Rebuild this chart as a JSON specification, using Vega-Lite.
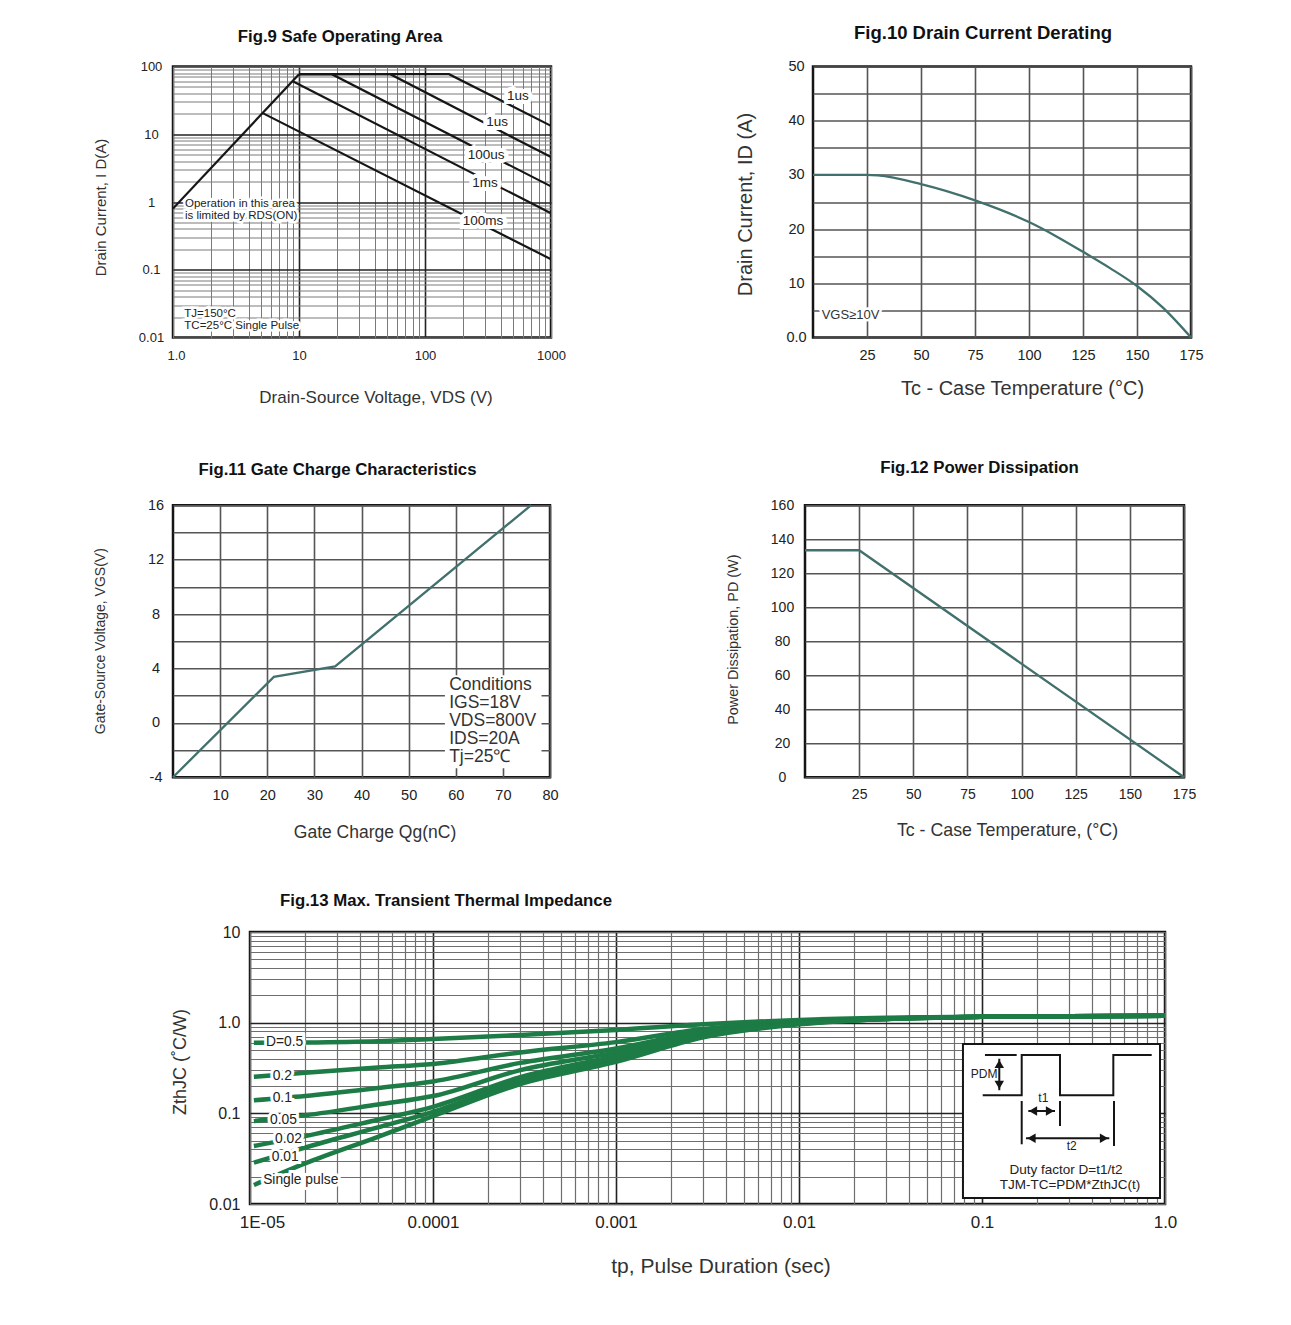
{
  "$schema": "https://vega.github.io/schema/vega-lite/v6.json",
  "padding": {"left": 91, "top": 22.5, "right": 10, "bottom": 10},
  "background": "white",
  "config": {
    "font": "Liberation Sans",
    "view": {"stroke": "#151515", "strokeWidth": 2.5},
    "axis": {"ticks": false, "domain": false, "labelFont": "Liberation Sans", "titleFont": "Liberation Sans", "labelColor": "#222", "titleColor": "#333", "titleFontWeight": "normal", "labelOverlap": false, "labelFlush": false, "labelBound": false, "gridOpacity": 1, "titleBaseline": "middle", "titleAlign": "center"},
    "title": {"font": "Liberation Sans", "fontWeight": "bold", "color": "#111", "anchor": "middle", "frame": "group"},
    "text": {"font": "Liberation Sans"}
  },
  "datasets": {
    "soa": [
      {"curve": "rds", "i": 0, "vds": 1, "id": 0.8}, {"curve": "rds", "i": 1, "vds": 10, "id": 77},
      {"curve": "a", "i": 0, "vds": 10, "id": 77}, {"curve": "a", "i": 1, "vds": 155, "id": 77}, {"curve": "a", "i": 2, "vds": 1000, "id": 13.3},
      {"curve": "b", "i": 0, "vds": 10, "id": 77}, {"curve": "b", "i": 1, "vds": 53, "id": 77}, {"curve": "b", "i": 2, "vds": 1000, "id": 4.6},
      {"curve": "c", "i": 0, "vds": 10, "id": 77}, {"curve": "c", "i": 1, "vds": 18.2, "id": 77}, {"curve": "c", "i": 2, "vds": 1000, "id": 1.7},
      {"curve": "d", "i": 0, "vds": 9, "id": 60}, {"curve": "d", "i": 1, "vds": 1000, "id": 0.68},
      {"curve": "e", "i": 0, "vds": 5.15, "id": 20.5}, {"curve": "e", "i": 1, "vds": 1000, "id": 0.143}
    ],
    "soa_lab": [
      {"t": "1us", "vds": 547, "id": 37.3},
      {"t": "1us", "vds": 373, "id": 15.4},
      {"t": "100us", "vds": 305, "id": 5.0},
      {"t": "1ms", "vds": 299, "id": 1.94},
      {"t": "100ms", "vds": 289, "id": 0.533}
    ],
    "soa_note": [
      {"t": "Operation in this area", "vds": 1.245, "id": 0.94},
      {"t": "is limited by RDS(ON)", "vds": 1.245, "id": 0.618},
      {"t": "TJ=150°C", "vds": 1.23, "id": 0.0219},
      {"t": "TC=25°C Single Pulse", "vds": 1.23, "id": 0.01503}
    ],
    "derate": [
      {"tc": 0, "id": 30}, {"tc": 25, "id": 30}, {"tc": 30, "id": 29.9}, {"tc": 50, "id": 28.3},
      {"tc": 75, "id": 25.3}, {"tc": 100, "id": 21.3}, {"tc": 112.5, "id": 18.7}, {"tc": 125, "id": 15.8}, {"tc": 137.5, "id": 12.8}, {"tc": 150, "id": 9.5}, {"tc": 162, "id": 5.5}, {"tc": 175, "id": 0}
    ],
    "derate_note": [{"t": "VGS≥10V", "tc": 4.0, "id": 4.24}],
    "gate": [
      {"qg": 0, "vgs": -4}, {"qg": 21.4, "vgs": 3.38}, {"qg": 34.4, "vgs": 4.14}, {"qg": 76, "vgs": 16}
    ],
    "gate_box": [{"qg": 57.7, "qg2": 78.2, "vgs": -3.34, "vgs2": 3.5}],
    "gate_note": [
      {"t": "Conditions", "qg": 58.6, "vgs": 2.75},
      {"t": "IGS=18V", "qg": 58.6, "vgs": 1.43},
      {"t": "VDS=800V", "qg": 58.6, "vgs": 0.11},
      {"t": "IDS=20A", "qg": 58.6, "vgs": -1.21},
      {"t": "Tj=25℃", "qg": 58.6, "vgs": -2.53}
    ],
    "power": [{"tc": 0, "pd": 133.5}, {"tc": 25, "pd": 133.5}, {"tc": 175, "pd": 0}],
    "zth": [
      {"s": "0.5", "tp": 1.05e-5, "z": 0.60}, {"s": "0.5", "tp": 2e-5, "z": 0.605}, {"s": "0.5", "tp": 5e-5, "z": 0.625}, {"s": "0.5", "tp": 1e-4, "z": 0.66}, {"s": "0.5", "tp": 3e-4, "z": 0.73}, {"s": "0.5", "tp": 1e-3, "z": 0.83}, {"s": "0.5", "tp": 3e-3, "z": 0.96}, {"s": "0.5", "tp": 1e-2, "z": 1.07}, {"s": "0.5", "tp": 3e-2, "z": 1.13}, {"s": "0.5", "tp": 0.1, "z": 1.16}, {"s": "0.5", "tp": 0.3, "z": 1.18}, {"s": "0.5", "tp": 1, "z": 1.19},
      {"s": "0.2", "tp": 1.05e-5, "z": 0.253}, {"s": "0.2", "tp": 2e-5, "z": 0.28}, {"s": "0.2", "tp": 5e-5, "z": 0.32}, {"s": "0.2", "tp": 1e-4, "z": 0.35}, {"s": "0.2", "tp": 3e-4, "z": 0.47}, {"s": "0.2", "tp": 1e-3, "z": 0.61}, {"s": "0.2", "tp": 3e-3, "z": 0.85}, {"s": "0.2", "tp": 1e-2, "z": 1.02}, {"s": "0.2", "tp": 3e-2, "z": 1.11}, {"s": "0.2", "tp": 0.1, "z": 1.16}, {"s": "0.2", "tp": 0.3, "z": 1.18}, {"s": "0.2", "tp": 1, "z": 1.19},
      {"s": "0.1", "tp": 1.05e-5, "z": 0.139}, {"s": "0.1", "tp": 2e-5, "z": 0.155}, {"s": "0.1", "tp": 5e-5, "z": 0.19}, {"s": "0.1", "tp": 1e-4, "z": 0.225}, {"s": "0.1", "tp": 3e-4, "z": 0.36}, {"s": "0.1", "tp": 1e-3, "z": 0.52}, {"s": "0.1", "tp": 3e-3, "z": 0.80}, {"s": "0.1", "tp": 1e-2, "z": 1.0}, {"s": "0.1", "tp": 3e-2, "z": 1.1}, {"s": "0.1", "tp": 0.1, "z": 1.16}, {"s": "0.1", "tp": 0.3, "z": 1.18}, {"s": "0.1", "tp": 1, "z": 1.19},
      {"s": "0.05", "tp": 1.05e-5, "z": 0.082}, {"s": "0.05", "tp": 2e-5, "z": 0.095}, {"s": "0.05", "tp": 5e-5, "z": 0.125}, {"s": "0.05", "tp": 1e-4, "z": 0.155}, {"s": "0.05", "tp": 3e-4, "z": 0.30}, {"s": "0.05", "tp": 1e-3, "z": 0.47}, {"s": "0.05", "tp": 3e-3, "z": 0.77}, {"s": "0.05", "tp": 1e-2, "z": 0.99}, {"s": "0.05", "tp": 3e-2, "z": 1.1}, {"s": "0.05", "tp": 0.1, "z": 1.16}, {"s": "0.05", "tp": 0.3, "z": 1.18}, {"s": "0.05", "tp": 1, "z": 1.19},
      {"s": "0.02", "tp": 1.05e-5, "z": 0.0436}, {"s": "0.02", "tp": 2e-5, "z": 0.056}, {"s": "0.02", "tp": 5e-5, "z": 0.085}, {"s": "0.02", "tp": 1e-4, "z": 0.118}, {"s": "0.02", "tp": 3e-4, "z": 0.25}, {"s": "0.02", "tp": 1e-3, "z": 0.43}, {"s": "0.02", "tp": 3e-3, "z": 0.74}, {"s": "0.02", "tp": 1e-2, "z": 0.98}, {"s": "0.02", "tp": 3e-2, "z": 1.1}, {"s": "0.02", "tp": 0.1, "z": 1.16}, {"s": "0.02", "tp": 0.3, "z": 1.18}, {"s": "0.02", "tp": 1, "z": 1.19},
      {"s": "0.01", "tp": 1.05e-5, "z": 0.0286}, {"s": "0.01", "tp": 2e-5, "z": 0.042}, {"s": "0.01", "tp": 5e-5, "z": 0.07}, {"s": "0.01", "tp": 1e-4, "z": 0.104}, {"s": "0.01", "tp": 3e-4, "z": 0.23}, {"s": "0.01", "tp": 1e-3, "z": 0.40}, {"s": "0.01", "tp": 3e-3, "z": 0.71}, {"s": "0.01", "tp": 1e-2, "z": 0.97}, {"s": "0.01", "tp": 3e-2, "z": 1.1}, {"s": "0.01", "tp": 0.1, "z": 1.16}, {"s": "0.01", "tp": 0.3, "z": 1.18}, {"s": "0.01", "tp": 1, "z": 1.19},
      {"s": "single", "tp": 1.05e-5, "z": 0.0162}, {"s": "single", "tp": 2e-5, "z": 0.028}, {"s": "single", "tp": 5e-5, "z": 0.055}, {"s": "single", "tp": 1e-4, "z": 0.093}, {"s": "single", "tp": 3e-4, "z": 0.21}, {"s": "single", "tp": 1e-3, "z": 0.37}, {"s": "single", "tp": 3e-3, "z": 0.69}, {"s": "single", "tp": 1e-2, "z": 0.96}, {"s": "single", "tp": 3e-2, "z": 1.1}, {"s": "single", "tp": 0.1, "z": 1.16}, {"s": "single", "tp": 0.3, "z": 1.18}, {"s": "single", "tp": 1, "z": 1.19}
    ],
    "zth_lab": [
      {"t": "D=0.5", "tp": 1.223e-5, "z": 0.612},
      {"t": "0.2", "tp": 1.33e-5, "z": 0.258},
      {"t": "0.1", "tp": 1.33e-5, "z": 0.1466},
      {"t": "0.05", "tp": 1.286e-5, "z": 0.0844},
      {"t": "0.02", "tp": 1.37e-5, "z": 0.0517},
      {"t": "0.01", "tp": 1.314e-5, "z": 0.033},
      {"t": "Single pulse", "tp": 1.18e-5, "z": 0.01824}
    ],
    "inset_box": [{"tp": 0.0787, "tp2": 0.9391, "z": 0.01165, "z2": 0.5817}],
    "inset_lines": [
      {"seg": "wave", "i": 0, "tp": 0.1009, "z": 0.1581}, {"seg": "wave", "i": 1, "tp": 0.1648, "z": 0.1581}, {"seg": "wave", "i": 2, "tp": 0.1648, "z": 0.4398}, {"seg": "wave", "i": 3, "tp": 0.2668, "z": 0.4398}, {"seg": "wave", "i": 4, "tp": 0.2668, "z": 0.1581}, {"seg": "wave", "i": 5, "tp": 0.5219, "z": 0.1581}, {"seg": "wave", "i": 6, "tp": 0.5219, "z": 0.4398}, {"seg": "wave", "i": 7, "tp": 0.8459, "z": 0.4398},
      {"seg": "bar", "i": 0, "tp": 0.1038, "z": 0.4398}, {"seg": "bar", "i": 1, "tp": 0.1547, "z": 0.4398},
      {"seg": "pdm", "i": 0, "tp": 0.1243, "z": 0.40}, {"seg": "pdm", "i": 1, "tp": 0.1243, "z": 0.18},
      {"seg": "v1", "i": 0, "tp": 0.1648, "z": 0.1368}, {"seg": "v1", "i": 1, "tp": 0.1648, "z": 0.04556},
      {"seg": "v2", "i": 0, "tp": 0.2668, "z": 0.1368}, {"seg": "v2", "i": 1, "tp": 0.2668, "z": 0.07251},
      {"seg": "v3", "i": 0, "tp": 0.5265, "z": 0.1368}, {"seg": "v3", "i": 1, "tp": 0.5265, "z": 0.04363},
      {"seg": "t1", "i": 0, "tp": 0.1791, "z": 0.1061}, {"seg": "t1", "i": 1, "tp": 0.2505, "z": 0.1061},
      {"seg": "t2", "i": 0, "tp": 0.1739, "z": 0.05305}, {"seg": "t2", "i": 1, "tp": 0.4962, "z": 0.05305}
    ],
    "inset_heads": [
      {"dir": "up", "tp": 0.1243, "z": 0.35},
      {"dir": "down", "tp": 0.1243, "z": 0.2055},
      {"dir": "left", "tp": 0.190, "z": 0.1061},
      {"dir": "right", "tp": 0.2353, "z": 0.1061},
      {"dir": "left", "tp": 0.1864, "z": 0.05305},
      {"dir": "right", "tp": 0.4642, "z": 0.05305}
    ],
    "inset_small": [
      {"t": "PDM", "tp": 0.1026, "z": 0.2716},
      {"t": "t1", "tp": 0.2163, "z": 0.1488},
      {"t": "t2", "tp": 0.3092, "z": 0.04363}
    ],
    "inset_big": [
      {"t": "Duty factor D=t1/t2", "tp": 0.2877, "z": 0.02372},
      {"t": "TJM-TC=PDM*ZthJC(t)", "tp": 0.3027, "z": 0.0162}
    ]
  },
  "vconcat": [
    {
      "vconcat": [
        {
          "hconcat": [
            {
              "width": 378, "height": 271,
              "title": {"text": "Fig.9  Safe Operating Area", "fontSize": 16.8, "offset": 15, "dx": -22},
              "encoding": {
                "x": {"field": "vds", "type": "quantitative", "scale": {"type": "log", "domain": [1, 1000], "nice": false},
                  "axis": {"values": [1,2,3,4,5,6,7,8,9,10,20,30,40,50,60,70,80,90,100,200,300,400,500,600,700,800,900,1000],
                    "labelExpr": "datum.value==1?'1.0':datum.value==10?'10':datum.value==100?'100':datum.value==1000?'1000':''",
                    "labelFontSize": 13, "labelPadding": 12, "labelOffset": {"condition": {"test": "datum.value==1", "value": 3}, "value": 0},
                    "grid": true,
                    "gridColor": {"condition": {"test": "datum.value==10||datum.value==100", "value": "#222"}, "value": "#7a7a7a"},
                    "gridWidth": {"condition": {"test": "datum.value==10||datum.value==100", "value": 1.6}, "value": 1},
                    "title": "Drain-Source Voltage, VDS (V)", "titleFontSize": 17, "titleX": 202.5, "titleY": 60}},
                "y": {"field": "id", "type": "quantitative", "scale": {"type": "log", "domain": [0.01, 100], "nice": false},
                  "axis": {"values": [0.01,0.02,0.03,0.04,0.05,0.06,0.07,0.08,0.09,0.1,0.2,0.3,0.4,0.5,0.6,0.7,0.8,0.9,1,2,3,4,5,6,7,8,9,10,20,30,40,50,60,70,80,90,100],
                    "labelExpr": "datum.value==0.01?'0.01':datum.value==0.1?'0.1':datum.value==1?'1':datum.value==10?'10':datum.value==100?'100':''",
                    "labelFontSize": 13, "labelAlign": "center", "labelPadding": 22,
                    "grid": true,
                    "gridColor": {"condition": {"test": "datum.value==0.1||datum.value==1||datum.value==10", "value": "#222"}, "value": "#7a7a7a"},
                    "gridWidth": {"condition": {"test": "datum.value==0.1||datum.value==1||datum.value==10", "value": 1.6}, "value": 1},
                    "title": "Drain Current, I D(A)", "titleFontSize": 15, "titleX": -73, "titleY": 140.5}}
              },
              "layer": [
                {"data": {"name": "soa"}, "mark": {"type": "line", "color": "#161616", "strokeWidth": 2.2, "clip": true},
                  "encoding": {"detail": {"field": "curve"}, "order": {"field": "i"}}},
                {"data": {"name": "soa_lab"}, "mark": {"type": "text", "align": "center", "baseline": "middle", "fontSize": 13.5, "fill": "white", "stroke": "white", "strokeWidth": 8},
                  "encoding": {"text": {"field": "t"}}},
                {"data": {"name": "soa_lab"}, "mark": {"type": "text", "align": "center", "baseline": "middle", "fontSize": 13.5, "fill": "#222"},
                  "encoding": {"text": {"field": "t"}}},
                {"data": {"name": "soa_note"}, "mark": {"type": "text", "align": "left", "baseline": "middle", "fontSize": 11.5, "fill": "white", "stroke": "white", "strokeWidth": 5},
                  "encoding": {"text": {"field": "t"}}},
                {"data": {"name": "soa_note"}, "mark": {"type": "text", "align": "left", "baseline": "middle", "fontSize": 11.5, "fill": "#222"},
                  "encoding": {"text": {"field": "t"}}}
              ]
            },
            {
              "width": 378, "height": 271,
              "title": {"text": "Fig.10  Drain Current Derating", "fontSize": 18.5, "offset": 16, "dx": -19},
              "encoding": {
                "x": {"field": "tc", "type": "quantitative", "scale": {"domain": [0, 175], "nice": false, "zero": false},
                  "axis": {"values": [25,50,75,100,125,150,175], "labelFontSize": 14.5, "labelPadding": 11, "grid": true, "gridColor": "#555", "gridWidth": 1.6,
                    "title": "Tc - Case Temperature (°C)", "titleFontSize": 20, "titleX": 209, "titleY": 51}},
                "y": {"field": "id", "type": "quantitative", "scale": {"domain": [0, 50], "nice": false},
                  "axis": {"values": [0,5,10,15,20,25,30,35,40,45,50], "labelExpr": "datum.value==0?'0.0':(datum.value%10==0?(''+datum.value):'')",
                    "labelFontSize": 14.5, "labelAlign": "center", "labelPadding": 17, "grid": true, "gridColor": "#555", "gridWidth": 1.6,
                    "title": "Drain Current, ID (A)", "titleFontSize": 20, "titleX": -68, "titleY": 137.5}}
              },
              "layer": [
                {"data": {"name": "derate"}, "mark": {"type": "line", "color": "#41706d", "strokeWidth": 2.3, "interpolate": "monotone"}, "encoding": {}},
                {"data": {"name": "derate_note"}, "mark": {"type": "text", "align": "left", "baseline": "middle", "fontSize": 13, "fill": "white", "stroke": "white", "strokeWidth": 5},
                  "encoding": {"text": {"field": "t"}}},
                {"data": {"name": "derate_note"}, "mark": {"type": "text", "align": "left", "baseline": "middle", "fontSize": 13, "fill": "#333"},
                  "encoding": {"text": {"field": "t"}}}
              ]
            }
          ],
          "spacing": 262, "bounds": "flush"
        },
        {
          "hconcat": [
            {
              "width": 377, "height": 272,
              "title": {"text": "Fig.11  Gate Charge Characteristics", "fontSize": 16.8, "offset": 18, "dx": -24},
              "encoding": {
                "x": {"field": "qg", "type": "quantitative", "scale": {"domain": [0, 80], "nice": false, "zero": false},
                  "axis": {"values": [10,20,30,40,50,60,70,80], "labelFontSize": 14.5, "labelPadding": 11, "grid": true, "gridColor": "#555", "gridWidth": 1.6,
                    "title": "Gate Charge Qg(nC)", "titleFontSize": 17.5, "titleX": 201.5, "titleY": 55}},
                "y": {"field": "vgs", "type": "quantitative", "scale": {"domain": [-4, 16], "nice": false, "zero": false},
                  "axis": {"values": [-4,-2,0,2,4,6,8,10,12,14,16], "labelExpr": "datum.value%4==0?(''+datum.value):''",
                    "labelFontSize": 14.5, "labelAlign": "center", "labelPadding": 17.5, "grid": true, "gridColor": "#555", "gridWidth": 1.6,
                    "title": "Gate-Source Voltage, VGS(V)", "titleFontSize": 14, "titleX": -73, "titleY": 135.5}}
              },
              "layer": [
                {"data": {"name": "gate"}, "mark": {"type": "line", "color": "#41706d", "strokeWidth": 2.3}, "encoding": {}},
                {"data": {"name": "gate_box"}, "mark": {"type": "rect", "fill": "white"},
                  "encoding": {"x2": {"field": "qg2"}, "y2": {"field": "vgs2"}}},
                {"data": {"name": "gate_note"}, "mark": {"type": "text", "align": "left", "baseline": "middle", "fontSize": 17.5, "fill": "#333"},
                  "encoding": {"text": {"field": "t"}}}
              ]
            },
            {
              "width": 379, "height": 272,
              "title": {"text": "Fig.12  Power Dissipation", "fontSize": 16.8, "offset": 21, "dx": -15},
              "encoding": {
                "x": {"field": "tc", "type": "quantitative", "scale": {"domain": [0, 175], "nice": false, "zero": false},
                  "axis": {"values": [25,50,75,100,125,150,175], "labelFontSize": 14, "labelPadding": 10, "grid": true, "gridColor": "#555", "gridWidth": 1.6,
                    "title": "Tc - Case Temperature,  (°C)", "titleFontSize": 17.8, "titleX": 202, "titleY": 53}},
                "y": {"field": "pd", "type": "quantitative", "scale": {"domain": [0, 160], "nice": false},
                  "axis": {"values": [0,20,40,60,80,100,120,140,160], "labelFontSize": 14, "labelAlign": "center", "labelPadding": 23, "grid": true, "gridColor": "#555", "gridWidth": 1.6,
                    "title": "Power Dissipation, PD (W)", "titleFontSize": 14.4, "titleX": -72, "titleY": 134}}
              },
              "layer": [
                {"data": {"name": "power"}, "mark": {"type": "line", "color": "#41706d", "strokeWidth": 2.3}, "encoding": {}}
              ]
            }
          ],
          "spacing": 255, "bounds": "flush"
        }
      ],
      "spacing": 50.7
    },
    {
      "hconcat": [
        {"width": 10, "height": 10, "data": {"values": []}, "mark": "point", "view": {"stroke": null}},
        {
          "width": 915, "height": 272,
          "title": {"text": "Fig.13  Max. Transient Thermal Impedance", "fontSize": 16.8, "offset": 14, "anchor": "start", "dx": 30},
          "encoding": {
            "x": {"field": "tp", "type": "quantitative", "scale": {"type": "log", "domain": [1e-5, 1], "nice": false},
              "axis": {"values": [1e-5,2e-5,3e-5,4e-5,5e-5,6e-5,7e-5,8e-5,9e-5,1e-4,2e-4,3e-4,4e-4,5e-4,6e-4,7e-4,8e-4,9e-4,0.001,0.002,0.003,0.004,0.005,0.006,0.007,0.008,0.009,0.01,0.02,0.03,0.04,0.05,0.06,0.07,0.08,0.09,0.1,0.2,0.3,0.4,0.5,0.6,0.7,0.8,0.9,1],
                "labelExpr": "datum.value==1e-5?'1E-05':datum.value==1e-4?'0.0001':datum.value==0.001?'0.001':datum.value==0.01?'0.01':datum.value==0.1?'0.1':datum.value==1?'1.0':''",
                "labelFontSize": 17, "labelPadding": 10, "labelOffset": {"condition": {"test": "datum.value==1e-5", "value": 12}, "value": 0},
                "grid": true,
                "gridColor": {"condition": {"test": "datum.value==1e-4||datum.value==0.001||datum.value==0.01||datum.value==0.1", "value": "#222"}, "value": "#6e6e6e"},
                "gridWidth": {"condition": {"test": "datum.value==1e-4||datum.value==0.001||datum.value==0.01||datum.value==0.1", "value": 1.6}, "value": 1.2},
                "title": "tp, Pulse Duration  (sec)", "titleFontSize": 21, "titleX": 470.5, "titleY": 62}},
            "y": {"field": "z", "type": "quantitative", "scale": {"type": "log", "domain": [0.01, 10], "nice": false},
              "axis": {"values": [0.01,0.02,0.03,0.04,0.05,0.06,0.07,0.08,0.09,0.1,0.2,0.3,0.4,0.5,0.6,0.7,0.8,0.9,1,2,3,4,5,6,7,8,9,10],
                "labelExpr": "datum.value==0.01?'0.01':datum.value==0.1?'0.1':datum.value==1?'1.0':datum.value==10?'10':''",
                "labelFontSize": 16, "labelPadding": 10,
                "grid": true,
                "gridColor": {"condition": {"test": "datum.value==0.1||datum.value==1", "value": "#222"}, "value": "#6e6e6e"},
                "gridWidth": {"condition": {"test": "datum.value==0.1||datum.value==1", "value": 1.6}, "value": 1.2},
                "title": "ZthJC (˚C/W)", "titleFontSize": 18, "titleX": -70, "titleY": 129.5}}
          },
          "layer": [
            {"data": {"name": "zth"}, "mark": {"type": "line", "color": "#1d7b45", "strokeWidth": 4.5, "interpolate": "monotone", "clip": true},
              "encoding": {"detail": {"field": "s"}}},
            {"data": {"name": "zth_lab"}, "mark": {"type": "text", "align": "left", "baseline": "middle", "fontSize": 13.8, "fill": "white", "stroke": "white", "strokeWidth": 6},
              "encoding": {"text": {"field": "t"}}},
            {"data": {"name": "zth_lab"}, "mark": {"type": "text", "align": "left", "baseline": "middle", "fontSize": 13.8, "fill": "#222"},
              "encoding": {"text": {"field": "t"}}},
            {"data": {"name": "inset_box"}, "mark": {"type": "rect", "fill": "white", "stroke": "#151515", "strokeWidth": 2},
              "encoding": {"x2": {"field": "tp2"}, "y2": {"field": "z2"}}},
            {"data": {"name": "inset_lines"}, "mark": {"type": "line", "color": "#151515", "strokeWidth": 2},
              "encoding": {"detail": {"field": "seg"}, "order": {"field": "i"}}},
            {"data": {"name": "inset_heads"}, "mark": {"type": "point", "filled": true, "color": "#151515", "size": 90, "opacity": 1},
              "encoding": {"shape": {"field": "dir", "type": "nominal", "scale": {"domain": ["up", "down", "left", "right"], "range": ["triangle-up", "triangle-down", "triangle-left", "triangle-right"]}, "legend": null}}},
            {"data": {"name": "inset_small"}, "mark": {"type": "text", "align": "center", "baseline": "middle", "fontSize": 12, "fill": "#222"},
              "encoding": {"text": {"field": "t"}}},
            {"data": {"name": "inset_big"}, "mark": {"type": "text", "align": "center", "baseline": "middle", "fontSize": 13.5, "fill": "#222"},
              "encoding": {"text": {"field": "t"}}}
          ]
        }
      ],
      "spacing": 67, "bounds": "flush"
    }
  ],
  "spacing": 48.5
}
